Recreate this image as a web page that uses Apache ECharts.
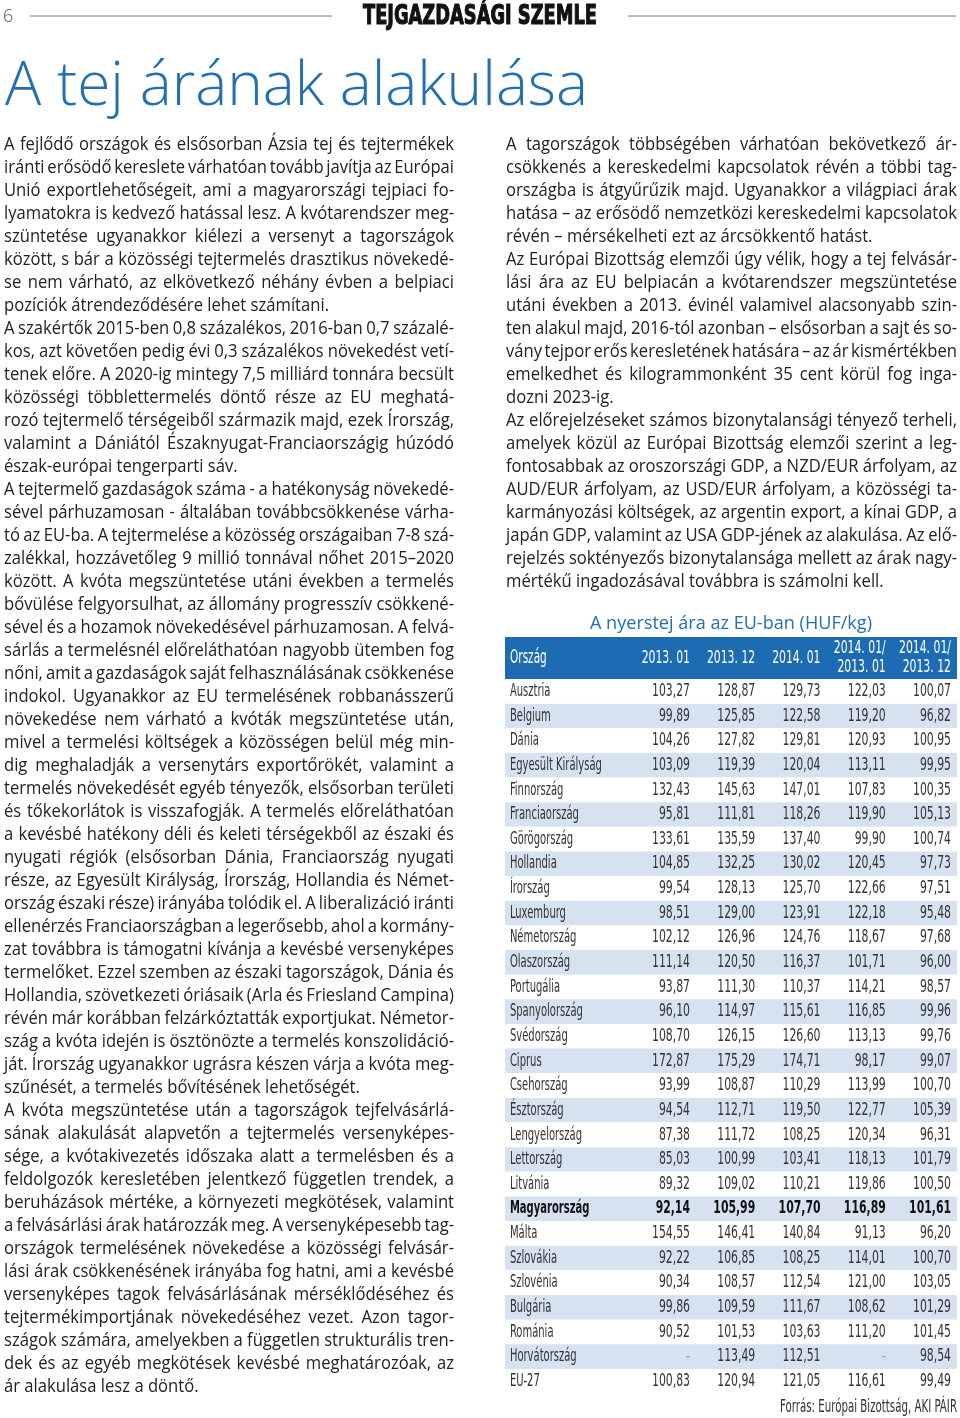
<!DOCTYPE html>
<html lang="hu">
<head>
<meta charset="UTF-8">
<title>A tej árának alakulása</title>
<style>
  html, body { margin: 0; padding: 0; background: #fff; }
  #page { width: 960px; height: 1418px; }
</style>
<script src="https://cdn.jsdelivr.net/npm/echarts@6/dist/echarts.min.js"></script>
</head>
<body>
<div id="page"></div>
<script>
// ---- table data (HUF/kg) ----
const countries = ['Ausztria', 'Belgium', 'Dánia', 'Egyesült Királyság', 'Finnország', 'Franciaország',
  'Görögország', 'Hollandia', 'Írország', 'Luxemburg', 'Németország', 'Olaszország', 'Portugália',
  'Spanyolország', 'Svédország', 'Ciprus', 'Csehország', 'Észtország', 'Lengyelország', 'Lettország',
  'Litvánia', 'Magyarország', 'Málta', 'Szlovákia', 'Szlovénia', 'Bulgária', 'Románia', 'Horvátország', 'EU-27'];
const p2013_01 = [103.27, 99.89, 104.26, 103.09, 132.43, 95.81, 133.61, 104.85, 99.54, 98.51, 102.12, 111.14, 93.87,
  96.10, 108.70, 172.87, 93.99, 94.54, 87.38, 85.03, 89.32, 92.14, 154.55, 92.22, 90.34, 99.86, 90.52, null, 100.83];
const p2013_12 = [128.87, 125.85, 127.82, 119.39, 145.63, 111.81, 135.59, 132.25, 128.13, 129.00, 126.96, 120.50, 111.30,
  114.97, 126.15, 175.29, 108.87, 112.71, 111.72, 100.99, 109.02, 105.99, 146.41, 106.85, 108.57, 109.59, 101.53, 113.49, 120.94];
const p2014_01 = [129.73, 122.58, 129.81, 120.04, 147.01, 118.26, 137.40, 130.02, 125.70, 123.91, 124.76, 116.37, 110.37,
  115.61, 126.60, 174.71, 110.29, 119.50, 108.25, 103.41, 110.21, 107.70, 140.84, 108.25, 112.54, 111.67, 103.63, 112.51, 121.05];
const idx_1401_1301 = [122.03, 119.20, 120.93, 113.11, 107.83, 119.90, 99.90, 120.45, 122.66, 122.18, 118.67, 101.71, 114.21,
  116.85, 113.13, 98.17, 113.99, 122.77, 120.34, 118.13, 119.86, 116.89, 91.13, 114.01, 121.00, 108.62, 111.20, null, 116.61];
const idx_1401_1312 = [100.07, 96.82, 100.95, 99.95, 100.35, 105.13, 100.74, 97.73, 97.51, 95.48, 97.68, 96.00, 98.57,
  99.96, 99.76, 99.07, 100.70, 105.39, 96.31, 101.79, 100.50, 101.61, 96.20, 100.70, 103.05, 101.29, 101.45, 98.54, 99.49];
const columns = [p2013_01, p2013_12, p2014_01, idx_1401_1301, idx_1401_1312];
const colLabels = [['2013. 01'], ['2013. 12'], ['2014. 01'], ['2014. 01/', '2013. 01'], ['2014. 01/', '2013. 12']];
const boldRow = 'Magyarország';

// ---- article text ----
const leftLines = [
  'A fejlődő országok és elsősorban Ázsia tej és tejtermékek',
  'iránti erősödő kereslete várhatóan tovább javítja az Európai',
  'Unió exportlehetőségeit, ami a magyarországi tejpiaci fo-',
  'lyamatokra is kedvező hatással lesz. A kvótarendszer meg-',
  'szüntetése ugyanakkor kiélezi a versenyt a tagországok',
  'között, s bár a közösségi tejtermelés drasztikus növekedé-',
  'se nem várható, az elkövetkező néhány évben a belpiaci',
  'pozíciók átrendeződésére lehet számítani.',
  'A szakértők 2015-ben 0,8 százalékos, 2016-ban 0,7 százalé-',
  'kos, azt követően pedig évi 0,3 százalékos növekedést vetí-',
  'tenek előre. A 2020-ig mintegy 7,5 milliárd tonnára becsült',
  'közösségi többlettermelés döntő része az EU meghatá-',
  'rozó tejtermelő térségeiből származik majd, ezek Írország,',
  'valamint a Dániától Északnyugat-Franciaországig húzódó',
  'észak-európai tengerparti sáv.',
  'A tejtermelő gazdaságok száma - a hatékonyság növekedé-',
  'sével párhuzamosan - általában továbbcsökkenése várha-',
  'tó az EU-ba. A tejtermelése a közösség országaiban 7-8 szá-',
  'zalékkal, hozzávetőleg 9 millió tonnával nőhet 2015–2020',
  'között. A kvóta megszüntetése utáni években a termelés',
  'bővülése felgyorsulhat, az állomány progresszív csökkené-',
  'sével és a hozamok növekedésével párhuzamosan. A felvá-',
  'sárlás a termelésnél előreláthatóan nagyobb ütemben fog',
  'nőni, amit a gazdaságok saját felhasználásának csökkenése',
  'indokol. Ugyanakkor az EU termelésének robbanásszerű',
  'növekedése nem várható a kvóták megszüntetése után,',
  'mivel a termelési költségek a közösségen belül még min-',
  'dig meghaladják a versenytárs exportőrökét, valamint a',
  'termelés növekedését egyéb tényezők, elsősorban területi',
  'és tőkekorlátok is visszafogják. A termelés előreláthatóan',
  'a kevésbé hatékony déli és keleti térségekből az északi és',
  'nyugati régiók (elsősorban Dánia, Franciaország nyugati',
  'része, az Egyesült Királyság, Írország, Hollandia és Német-',
  'ország északi része) irányába tolódik el. A liberalizáció iránti',
  'ellenérzés Franciaországban a legerősebb, ahol a kormány-',
  'zat továbbra is támogatni kívánja a kevésbé versenyképes',
  'termelőket. Ezzel szemben az északi tagországok, Dánia és',
  'Hollandia, szövetkezeti óriásaik (Arla és Friesland Campina)',
  'révén már korábban felzárkóztatták exportjukat. Németor-',
  'szág a kvóta idején is ösztönözte a termelés konszolidáció-',
  'ját. Írország ugyanakkor ugrásra készen várja a kvóta meg-',
  'szűnését, a termelés bővítésének lehetőségét.',
  'A kvóta megszüntetése után a tagországok tejfelvásárlá-',
  'sának alakulását alapvetőn a tejtermelés versenyképes-',
  'sége, a kvótakivezetés időszaka alatt a termelésben és a',
  'feldolgozók keresletében jelentkező független trendek, a',
  'beruházások mértéke, a környezeti megkötések, valamint',
  'a felvásárlási árak határozzák meg. A versenyképesebb tag-',
  'országok termelésének növekedése a közösségi felvásár-',
  'lási árak csökkenésének irányába fog hatni, ami a kevésbé',
  'versenyképes tagok felvásárlásának mérséklődéséhez és',
  'tejtermékimportjának növekedéséhez vezet. Azon tagor-',
  'szágok számára, amelyekben a független strukturális tren-',
  'dek és az egyéb megkötések kevésbé meghatározóak, az',
  'ár alakulása lesz a döntő.'
];
const leftLast = [7, 14, 41, 54];

const rightLines = [
  'A tagországok többségében várhatóan bekövetkező ár-',
  'csökkenés a kereskedelmi kapcsolatok révén a többi tag-',
  'országba is átgyűrűzik majd. Ugyanakkor a világpiaci árak',
  'hatása – az erősödő nemzetközi kereskedelmi kapcsolatok',
  'révén – mérsékelheti ezt az árcsökkentő hatást.',
  'Az Európai Bizottság elemzői úgy vélik, hogy a tej felvásár-',
  'lási ára az EU belpiacán a kvótarendszer megszüntetése',
  'utáni években a 2013. évinél valamivel alacsonyabb szin-',
  'ten alakul majd, 2016-tól azonban – elsősorban a sajt és so-',
  'vány tejpor erős keresletének hatására – az ár kismértékben',
  'emelkedhet és kilogrammonként 35 cent körül fog inga-',
  'dozni 2023-ig.',
  'Az előrejelzéseket számos bizonytalansági tényező terheli,',
  'amelyek közül az Európai Bizottság elemzői szerint a leg-',
  'fontosabbak az oroszországi GDP, a NZD/EUR árfolyam, az',
  'AUD/EUR árfolyam, az USD/EUR árfolyam, a közösségi ta-',
  'karmányozási költségek, az argentin export, a kínai GDP, a',
  'japán GDP, valamint az USA GDP-jének az alakulása. Az elő-',
  'rejelzés soktényezős bizonytalansága mellett az árak nagy-',
  'mértékű ingadozásával továbbra is számolni kell.'
];
const rightLast = [4, 11, 19];

// ---- measuring helpers ----
const ctx = document.createElement('canvas').getContext('2d');
function textW(str, font) { ctx.font = font; return ctx.measureText(str).width; }
function hasFont(name) {
  const s = 'abcdefghijklmnopqrstuvwxyz0123456789';
  return textW(s, '20px monospace') !== textW(s, '20px "' + name + '", monospace');
}
const TABLE_FAMILY = hasFont('Liberation Sans Narrow') ? '"Liberation Sans Narrow"'
  : (hasFont('DejaVu Sans Condensed') ? '"DejaVu Sans Condensed"' : 'Roboto');
const TABLE_FONT = '18px ' + TABLE_FAMILY;
const BODY_FONT = '17.5px "Open Sans"';
const BLUE = '#226fb4';
const INK = '#222';

const els = [];
function addText(str, x, y, font, fill, align, sx, extra) {
  els.push({
    type: 'text', x: x, y: y, scaleX: sx || 1, silent: true,
    style: Object.assign({ text: str, font: font, fill: fill, align: align || 'left', verticalAlign: 'middle',
      textAlign: align || 'left', textVerticalAlign: 'middle' }, extra || {})
  });
}
function fit(str, font, w) { return w / textW(str, font); }

// page head
els.push({ type: 'line', shape: { x1: 30, y1: 16, x2: 332, y2: 16 }, style: { stroke: '#7a7a7a', lineWidth: 1 } });
els.push({ type: 'line', shape: { x1: 628, y1: 16, x2: 956, y2: 16 }, style: { stroke: '#7a7a7a', lineWidth: 1 } });
addText('6', 3, 17, '300 18px "Open Sans"', '#555', 'left');
const headFont = 'bold 27px "DejaVu Sans"';
addText('TEJGAZDASÁGI SZEMLE', 480, 17, headFont, '#111', 'center', fit('TEJGAZDASÁGI SZEMLE', headFont, 234),
  { stroke: '#111', lineWidth: 1.2 });
const titleFont = '300 60px "Open Sans"';
addText('A tej árának alakulása', 5, 88, titleFont, BLUE, 'left', fit('A tej árának alakulása', titleFont, 583));

// justified body columns
const SPACE = textW(' ', BODY_FONT);
function wordSum(words) { return words.reduce((a, w) => a + textW(w, BODY_FONT), 0); }
const ratios = [];
[[leftLines, leftLast, 450], [rightLines, rightLast, 451]].forEach(([lines, last, W]) => {
  lines.forEach((ln, i) => {
    if (last.indexOf(i) >= 0) return;
    const ws = ln.split(' ');
    ratios.push(W / (wordSum(ws) + (ws.length - 1) * SPACE * 1.15));
  });
});
ratios.sort((a, b) => a - b);
const BODY_SX = ratios[Math.floor(ratios.length / 2)];

function layColumn(lines, last, x0, W, y0, pitch) {
  lines.forEach((ln, i) => {
    const words = ln.split(' ');
    const y = y0 + i * pitch;
    let sx = BODY_SX;
    let sum = wordSum(words) * sx;
    let gap;
    if (last.indexOf(i) >= 0) {
      gap = SPACE * sx;
    } else {
      gap = (W - sum) / (words.length - 1);
      const minGap = SPACE * sx * 0.45;
      if (gap < minGap) {
        sx = (W - minGap * (words.length - 1)) / wordSum(words);
        sum = wordSum(words) * sx;
        gap = minGap;
      }
    }
    let x = x0;
    words.forEach(w => {
      addText(w, x, y, BODY_FONT, INK, 'left', sx);
      x += textW(w, BODY_FONT) * sx + gap;
    });
  });
}
layColumn(leftLines, leftLast, 4, 450, 145, 23);
layColumn(rightLines, rightLast, 506, 451, 145, 23);

// table frame texts
const tFont = '19px "Open Sans"';
addText('A nyerstej ára az EU-ban (HUF/kg)', 731, 624, tFont, BLUE, 'center', fit('A nyerstej ára az EU-ban (HUF/kg)', tFont, 282));
addText('Forrás: Európai Bizottság, AKI PÁIR', 957, 1407, TABLE_FONT, '#333', 'right',
  fit('Forrás: Európai Bizottság, AKI PÁIR', TABLE_FONT, 177));
els.push({ type: 'rect', shape: { x: 505, y: 637, width: 452, height: 42 }, style: { fill: '#1d6cb3' } });

// ---- table through grid/axes ----
const ROW_H = 24.64;
const X_MIN = -2.835, X_MAX = 4.092, NAME_X = -2.76;
const NAME_SX = fit('Egyesült Királyság', TABLE_FONT, 92);
const NUM_SX = fit('104,26', TABLE_FONT, 38);

const cells = [];
countries.forEach((c, r) => {
  const bold = c === boldRow;
  cells.push({ x: NAME_X, r: r, text: c, name: true, bold: bold });
  columns.forEach((col, k) => {
    const v = col[r];
    cells.push({ x: k, r: r, text: v == null ? '-' : v.toFixed(2).replace('.', ','), dim: v == null, bold: bold });
  });
});

function renderCell(params, api) {
  const c = cells[params.dataIndex];
  const pt = api.coord([api.value(0), api.value(1)]);
  const align = c.name ? 'left' : 'right';
  return {
    type: 'text', x: pt[0], y: pt[1], scaleX: c.name ? NAME_SX : NUM_SX,
    style: {
      text: c.text, font: (c.bold ? 'bold ' : '') + TABLE_FONT,
      fill: c.dim ? '#9a9a9a' : (c.bold ? '#111' : '#333'),
      align: align, verticalAlign: 'middle', textAlign: align, textVerticalAlign: 'middle'
    }
  };
}

const chart = echarts.init(document.getElementById('page'), null, { renderer: 'canvas' });
const option = {
  animation: false,
  grid: { left: 505, top: 679, width: 452, height: ROW_H * countries.length },
  xAxis: { type: 'value', min: X_MIN, max: X_MAX, show: false },
  yAxis: {
    type: 'category', data: countries, inverse: true,
    axisLine: { show: false }, axisTick: { show: false },
    axisLabel: { show: false, interval: 0 }, splitLine: { show: false },
    splitArea: { show: true, interval: 0, areaStyle: { color: ['#ffffff', '#d7e2f1'] } }
  },
  series: [{
    type: 'custom', renderItem: renderCell, clip: false,
    data: cells.map(c => [c.x, c.r])
  }],
  graphic: { elements: els }
};
chart.setOption(option);

// header labels placed on the same x scale
const headEls = [];
const hdrNameFont = '19px ' + TABLE_FAMILY;
headEls.push({ type: 'text', x: 510, y: 658, scaleX: NAME_SX, silent: true,
  style: { text: 'Ország', font: hdrNameFont, fill: '#fff', align: 'left', verticalAlign: 'middle', textAlign: 'left', textVerticalAlign: 'middle' } });
colLabels.forEach((lab, k) => {
  const px = chart.convertToPixel({ gridIndex: 0 }, [k, 0])[0];
  const ys = lab.length === 1 ? [658] : [648, 667];
  lab.forEach((t, j) => {
    headEls.push({ type: 'text', x: px, y: ys[j], scaleX: NUM_SX, silent: true,
      style: { text: t, font: TABLE_FONT, fill: '#fff', align: 'right', verticalAlign: 'middle', textAlign: 'right', textVerticalAlign: 'middle' } });
  });
});
chart.setOption({ graphic: { elements: els.concat(headEls) } });
</script>
</body>
</html>
